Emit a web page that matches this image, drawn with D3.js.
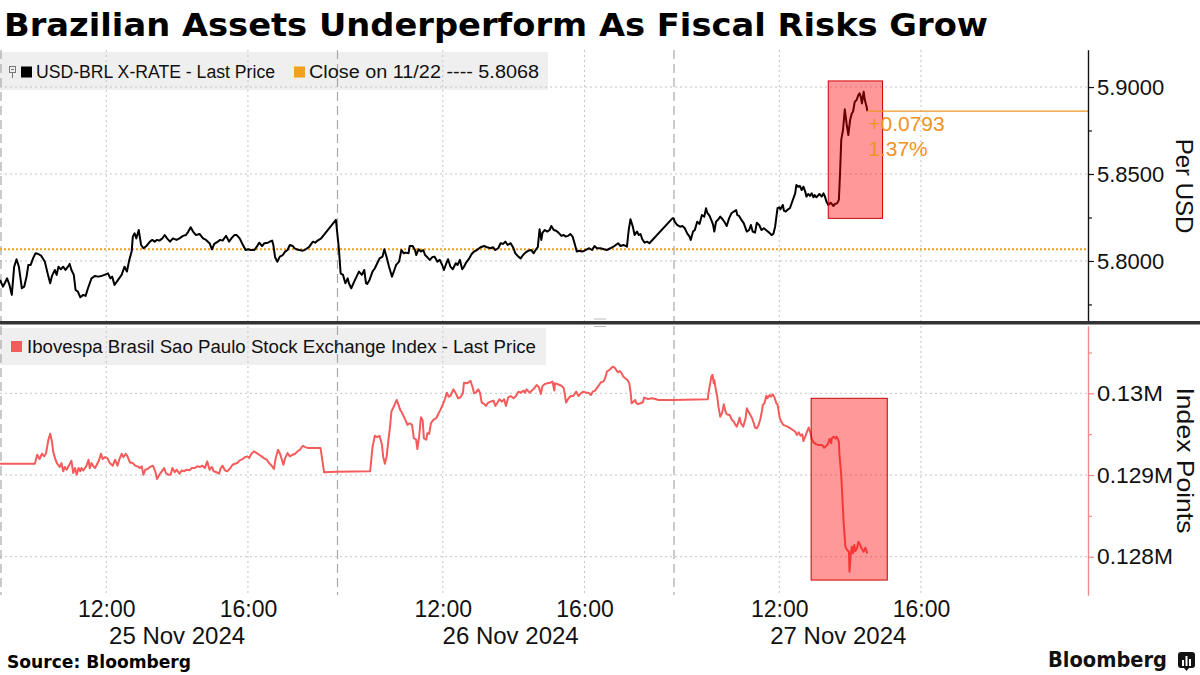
<!DOCTYPE html>
<html>
<head>
<meta charset="utf-8">
<script src="https://cdn.jsdelivr.net/npm/d3@7"></script>
<style>
  body { margin: 0; background: #fff; }
  svg { display: block; }
  text { font-family: "Liberation Sans", Arial, sans-serif; }
</style>
</head>
<body>
<div id="chart"></div>
<script>
// USD-BRL intraday, "DD HH:MM" (Nov 2024), value per USD
const usdBrl = [
  ["25 09:00",5.7891],["25 09:05",5.7852],["25 09:08",5.7872],["25 09:12",5.7900],["25 09:16",5.7862],["25 09:20",5.7805],
  ["25 09:24",5.7967],["25 09:28",5.8010],["25 09:32",5.7967],["25 09:37",5.7843],["25 09:41",5.7852],["25 09:45",5.7910],
  ["25 09:48",5.7977],["25 09:52",5.7977],["25 09:56",5.8015],["25 10:00",5.8044],["25 10:05",5.8040],["25 10:10",5.8029],
  ["25 10:16",5.7996],["25 10:22",5.7910],["25 10:25",5.7872],["25 10:28",5.7914],["25 10:33",5.7948],["25 10:36",5.7920],
  ["25 10:39",5.7967],["25 10:43",5.7952],["25 10:47",5.7967],["25 10:51",5.7948],["25 10:55",5.7967],["25 10:58",5.7983],
  ["25 11:01",5.7948],["25 11:05",5.7920],["25 11:08",5.7833],["25 11:12",5.7824],["25 11:16",5.7791],["25 11:21",5.7805],
  ["25 11:25",5.7799],["25 11:29",5.7843],["25 11:35",5.7900],["25 11:41",5.7914],["25 11:46",5.7910],["25 11:52",5.7914],
  ["25 11:57",5.7920],["25 12:03",5.7929],["25 12:07",5.7900],["25 12:10",5.7910],["25 12:14",5.7862],["25 12:20",5.7891],
  ["25 12:26",5.7920],["25 12:31",5.7967],["25 12:35",5.7939],["25 12:39",5.8006],["25 12:43",5.8054],["25 12:45",5.8140],
  ["25 12:48",5.8159],["25 12:51",5.8130],["25 12:55",5.8178],["25 12:59",5.8092],["25 13:03",5.8073],["25 13:08",5.8086],
  ["25 13:14",5.8111],["25 13:18",5.8121],["25 13:22",5.8111],["25 13:26",5.8121],["25 13:30",5.8117],["25 13:35",5.8130],
  ["25 13:39",5.8149],["25 13:43",5.8130],["25 13:48",5.8111],["25 13:53",5.8130],["25 13:59",5.8121],["25 14:04",5.8130],
  ["25 14:10",5.8144],["25 14:15",5.8149],["25 14:19",5.8169],["25 14:23",5.8194],["25 14:27",5.8169],["25 14:32",5.8149],
  ["25 14:38",5.8155],["25 14:44",5.8130],["25 14:49",5.8121],["25 14:55",5.8102],["25 14:59",5.8067],["25 15:03",5.8098],
  ["25 15:09",5.8111],["25 15:13",5.8121],["25 15:17",5.8117],["25 15:23",5.8144],["25 15:28",5.8111],["25 15:32",5.8130],
  ["25 15:37",5.8149],["25 15:41",5.8149],["25 15:46",5.8130],["25 15:50",5.8102],["25 15:56",5.8063],["25 16:00",5.8067],
  ["25 16:05",5.8063],["25 16:11",5.8063],["25 16:15",5.8082],["25 16:19",5.8105],["25 16:24",5.8086],["25 16:28",5.8102],
  ["25 16:34",5.8105],["25 16:37",5.8111],["25 16:41",5.8117],["25 16:43",5.8092],["25 16:46",5.8021],["25 16:50",5.7996],
  ["25 16:54",5.8025],["25 16:59",5.8034],["25 17:03",5.8054],["25 17:07",5.8063],["25 17:11",5.8092],["25 17:16",5.8086],
  ["25 17:19",5.8073],["25 17:22",5.8067],["25 17:27",5.8063],["25 17:33",5.8059],["25 17:38",5.8067],["25 17:44",5.8082],
  ["25 17:50",5.8111],["25 17:54",5.8105],["25 17:58",5.8117],["25 18:04",5.8130],["25 18:29",5.8236],
  ["26 09:04",5.8073],["26 09:07",5.7929],["26 09:11",5.7920],["26 09:15",5.7872],["26 09:19",5.7900],["26 09:21",5.7872],
  ["26 09:25",5.7843],["26 09:30",5.7881],["26 09:34",5.7910],["26 09:38",5.7939],["26 09:43",5.7920],["26 09:47",5.7948],
  ["26 09:50",5.7872],["26 09:52",5.7868],["26 09:56",5.7891],["26 10:01",5.7939],["26 10:05",5.7958],["26 10:09",5.7987],
  ["26 10:13",5.8015],["26 10:18",5.8025],["26 10:21",5.8067],["26 10:25",5.8021],["26 10:29",5.7967],["26 10:34",5.7910],
  ["26 10:38",5.7948],["26 10:41",5.7977],["26 10:46",5.7996],["26 10:50",5.8063],["26 10:54",5.8044],["26 10:57",5.8048],
  ["26 11:02",5.8044],["26 11:04",5.8086],["26 11:09",5.8086],["26 11:13",5.8063],["26 11:15",5.8034],["26 11:19",5.8067],
  ["26 11:23",5.8054],["26 11:27",5.8063],["26 11:30",5.8034],["26 11:34",5.8021],["26 11:38",5.8006],["26 11:42",5.8021],
  ["26 11:46",5.8025],["26 11:51",5.7996],["26 11:55",5.8006],["26 11:59",5.7977],["26 12:02",5.7948],["26 12:05",5.7977],
  ["26 12:09",5.8010],["26 12:13",5.7967],["26 12:17",5.7952],["26 12:22",5.7987],["26 12:25",5.7977],["26 12:29",5.8006],
  ["26 12:33",5.7952],["26 12:36",5.7967],["26 12:39",5.7987],["26 12:44",5.8010],["26 12:49",5.8040],["26 12:53",5.8054],
  ["26 12:58",5.8063],["26 13:04",5.8079],["26 13:10",5.8086],["26 13:15",5.8079],["26 13:21",5.8073],["26 13:25",5.8079],
  ["26 13:29",5.8063],["26 13:34",5.8073],["26 13:38",5.8102],["26 13:42",5.8098],["26 13:46",5.8111],["26 13:50",5.8092],
  ["26 13:55",5.8102],["26 13:59",5.8079],["26 14:03",5.8044],["26 14:08",5.8025],["26 14:12",5.8015],["26 14:16",5.8034],
  ["26 14:20",5.8048],["26 14:25",5.8059],["26 14:30",5.8063],["26 14:34",5.8044],["26 14:38",5.8067],["26 14:41",5.8079],
  ["26 14:44",5.8182],["26 14:47",5.8121],["26 14:49",5.8163],["26 14:53",5.8178],["26 14:57",5.8169],["26 15:01",5.8178],
  ["26 15:04",5.8201],["26 15:08",5.8178],["26 15:12",5.8174],["26 15:16",5.8163],["26 15:21",5.8144],["26 15:25",5.8149],
  ["26 15:28",5.8140],["26 15:32",5.8144],["26 15:36",5.8155],["26 15:40",5.8140],["26 15:43",5.8105],["26 15:47",5.8054],
  ["26 15:51",5.8059],["26 15:56",5.8054],["26 16:00",5.8059],["26 16:04",5.8067],["26 16:08",5.8073],["26 16:13",5.8063],
  ["26 16:17",5.8086],["26 16:21",5.8073],["26 16:27",5.8073],["26 16:33",5.8067],["26 16:38",5.8063],["26 16:44",5.8073],
  ["26 16:49",5.8082],["26 16:53",5.8092],["26 16:57",5.8102],["26 17:01",5.8086],["26 17:06",5.8092],["26 17:12",5.8082],
  ["26 17:15",5.8178],["26 17:18",5.8240],["26 17:22",5.8197],["26 17:25",5.8149],["26 17:29",5.8169],["26 17:32",5.8149],
  ["26 17:35",5.8155],["26 17:38",5.8125],["26 17:42",5.8105],["26 17:46",5.8111],["26 17:50",5.8102],["26 18:29",5.8245],
  ["27 09:01",5.8245],["27 09:03",5.8226],["27 09:07",5.8207],["27 09:12",5.8197],["27 09:16",5.8201],["27 09:20",5.8188],
  ["27 09:24",5.8159],["27 09:28",5.8140],["27 09:30",5.8121],["27 09:34",5.8169],["27 09:37",5.8178],["27 09:41",5.8226],
  ["27 09:45",5.8213],["27 09:49",5.8264],["27 09:53",5.8255],["27 09:56",5.8303],["27 09:58",5.8278],["27 10:02",5.8259],
  ["27 10:06",5.8226],["27 10:08",5.8207],["27 10:10",5.8169],["27 10:13",5.8226],["27 10:17",5.8240],["27 10:20",5.8255],
  ["27 10:24",5.8240],["27 10:28",5.8220],["27 10:31",5.8201],["27 10:35",5.8245],["27 10:39",5.8274],["27 10:43",5.8284],
  ["27 10:47",5.8293],["27 10:49",5.8264],["27 10:52",5.8259],["27 10:56",5.8236],["27 11:00",5.8216],["27 11:05",5.8169],
  ["27 11:09",5.8178],["27 11:12",5.8207],["27 11:15",5.8169],["27 11:19",5.8163],["27 11:22",5.8220],["27 11:26",5.8207],
  ["27 11:30",5.8178],["27 11:34",5.8188],["27 11:39",5.8174],["27 11:43",5.8163],["27 11:47",5.8149],["27 11:50",5.8155],
  ["27 11:53",5.8197],["27 11:57",5.8303],["27 12:00",5.8308],["27 12:02",5.8297],["27 12:06",5.8322],["27 12:08",5.8289],
  ["27 12:11",5.8284],["27 12:15",5.8297],["27 12:18",5.8303],["27 12:22",5.8341],["27 12:27",5.8389],["27 12:29",5.8437],
  ["27 12:32",5.8427],["27 12:35",5.8431],["27 12:38",5.8408],["27 12:41",5.8427],["27 12:44",5.8399],["27 12:46",5.8370],
  ["27 12:49",5.8385],["27 12:52",5.8374],["27 12:55",5.8389],["27 12:58",5.8366],["27 13:00",5.8379],["27 13:03",5.8366],
  ["27 13:08",5.8385],["27 13:12",5.8370],["27 13:15",5.8389],["27 13:17",5.8374],["27 13:20",5.8341],["27 13:23",5.8322],
  ["27 13:27",5.8335],["27 13:32",5.8316],["27 13:34",5.8328],["27 13:38",5.8331],["27 13:41",5.8351],["27 13:43",5.8504],
  ["27 13:45",5.8696],["27 13:48",5.8753],["27 13:51",5.8872],["27 13:54",5.8791],["27 13:57",5.8724],["27 14:00",5.8810],
  ["27 14:03",5.8849],["27 14:05",5.8858],["27 14:08",5.8916],["27 14:11",5.8925],["27 14:14",5.8954],["27 14:16",5.8964],
  ["27 14:18",5.8945],["27 14:20",5.8906],["27 14:23",5.8973],["27 14:25",5.8925],["27 14:28",5.8887],["27 14:29",5.8861]
];

// Ibovespa intraday, index points
const ibov = [
  ["25 09:00",129138],["25 09:59",129138],["25 10:03",129248],["25 10:07",129195],["25 10:11",129260],["25 10:15",129228],
  ["25 10:18",129268],["25 10:22",129431],["25 10:25",129504],["25 10:28",129411],["25 10:30",129289],["25 10:34",129187],
  ["25 10:37",129138],["25 10:41",129098],["25 10:44",129146],["25 10:47",129045],["25 10:50",129098],["25 10:53",129065],
  ["25 10:56",129106],["25 10:59",129146],["25 11:01",129175],["25 11:04",129024],["25 11:07",129085],["25 11:10",129004],
  ["25 11:13",129085],["25 11:16",129045],["25 11:18",129085],["25 11:21",129057],["25 11:26",129106],["25 11:30",129187],
  ["25 11:32",129085],["25 11:35",129146],["25 11:38",129106],["25 11:41",129085],["25 11:44",129126],["25 11:48",129187],
  ["25 11:51",129260],["25 11:54",129195],["25 11:58",129219],["25 12:02",129207],["25 12:06",129146],["25 12:11",129114],
  ["25 12:15",129187],["25 12:19",129114],["25 12:22",129187],["25 12:26",129260],["25 12:29",129219],["25 12:33",129260],
  ["25 12:36",129228],["25 12:40",129154],["25 12:45",129146],["25 12:49",129114],["25 12:53",129106],["25 12:57",129085],
  ["25 13:00",129106],["25 13:03",129004],["25 13:06",129065],["25 13:10",129073],["25 13:14",129098],["25 13:19",129114],
  ["25 13:23",129045],["25 13:26",128951],["25 13:30",129004],["25 13:34",129045],["25 13:38",129085],["25 13:41",129024],
  ["25 13:45",129004],["25 13:49",129004],["25 13:52",129085],["25 13:56",129033],["25 13:59",129065],["25 14:04",129016],
  ["25 14:08",129057],["25 14:12",129045],["25 14:16",129065],["25 14:21",129057],["25 14:25",129085],["25 14:30",129085],
  ["25 14:34",129106],["25 14:39",129098],["25 14:43",129114],["25 14:47",129085],["25 14:51",129167],["25 14:55",129065],
  ["25 14:59",129098],["25 15:02",129045],["25 15:07",129033],["25 15:11",129016],["25 15:14",129085],["25 15:17",129114],
  ["25 15:21",129057],["25 15:25",129045],["25 15:30",129085],["25 15:34",129126],["25 15:38",129138],["25 15:42",129146],
  ["25 15:46",129179],["25 15:51",129195],["25 15:55",129219],["25 15:59",129228],["25 16:02",129207],["25 16:06",129260],
  ["25 16:10",129289],["25 16:15",129268],["25 16:19",129248],["25 16:23",129228],["25 16:27",129207],["25 16:32",129187],
  ["25 16:36",129146],["25 16:40",129114],["25 16:44",129073],["25 16:47",129207],["25 16:51",129309],["25 16:55",129248],
  ["25 17:00",129126],["25 17:03",129207],["25 17:07",129268],["25 17:11",129228],["25 17:16",129248],["25 17:20",129260],
  ["25 17:24",129289],["25 17:28",129309],["25 17:33",129358],["25 17:37",129341],["25 17:42",129329],["25 18:03",129329],
  ["25 18:09",129033],["25 18:29",129041],
  ["26 09:00",129041],["26 09:57",129045],["26 10:01",129341],["26 10:05",129480],["26 10:09",129463],["26 10:13",129480],
  ["26 10:17",129370],["26 10:19",129228],["26 10:22",129138],["26 10:25",129228],["26 10:28",129431],["26 10:31",129614],
  ["26 10:33",129776],["26 10:37",129837],["26 10:42",129919],["26 10:45",129858],["26 10:48",129797],["26 10:50",129776],
  ["26 10:54",129715],["26 10:58",129654],["26 11:00",129614],["26 11:04",129634],["26 11:08",129614],["26 11:11",129451],
  ["26 11:15",129431],["26 11:17",129317],["26 11:20",129472],["26 11:23",129707],["26 11:26",129667],["26 11:28",129451],
  ["26 11:32",129431],["26 11:34",129512],["26 11:37",129504],["26 11:40",129634],["26 11:44",129675],["26 11:49",129695],
  ["26 11:53",129756],["26 11:56",129797],["26 12:01",129878],["26 12:04",129939],["26 12:07",130008],["26 12:10",129959],
  ["26 12:13",129967],["26 12:18",130049],["26 12:22",130000],["26 12:26",129939],["26 12:30",129951],["26 12:34",130000],
  ["26 12:36",130130],["26 12:41",130122],["26 12:43",130130],["26 12:47",130154],["26 12:51",130061],["26 12:53",130000],
  ["26 12:56",130008],["26 13:00",130049],["26 13:03",130008],["26 13:06",129886],["26 13:10",129870],["26 13:13",129846],
  ["26 13:17",129886],["26 13:21",129898],["26 13:26",129911],["26 13:29",129846],["26 13:32",129878],["26 13:36",129927],
  ["26 13:40",129898],["26 13:44",129927],["26 13:47",129846],["26 13:51",129951],["26 13:55",129967],["26 14:00",129939],
  ["26 14:04",129967],["26 14:08",130020],["26 14:12",130008],["26 14:17",130033],["26 14:19",130008],["26 14:22",130049],
  ["26 14:27",130008],["26 14:31",130033],["26 14:35",130061],["26 14:39",130102],["26 14:43",130073],["26 14:46",129992],
  ["26 14:49",130089],["26 14:53",130114],["26 14:57",130122],["26 15:02",130130],["26 15:06",130142],["26 15:09",130033],
  ["26 15:10",130122],["26 15:14",130114],["26 15:18",130102],["26 15:22",130089],["26 15:25",130061],["26 15:29",129886],
  ["26 15:33",129939],["26 15:37",129967],["26 15:41",129967],["26 15:46",130020],["26 15:50",129967],["26 15:54",130000],
  ["26 15:58",130020],["26 16:03",130008],["26 16:07",130008],["26 16:11",129980],["26 16:14",130020],["26 16:18",130033],
  ["26 16:22",130073],["26 16:26",130114],["26 16:28",130135],["26 16:32",130143],["26 16:35",130184],["26 16:38",130265],
  ["26 16:42",130286],["26 16:46",130314],["26 16:49",130327],["26 16:52",130306],["26 16:55",130273],["26 16:57",130257],
  ["26 17:00",130273],["26 17:03",130245],["26 17:06",130204],["26 17:09",130184],["26 17:13",130163],["26 17:16",130122],
  ["26 17:18",130020],["26 17:20",129878],["26 17:23",129898],["26 17:26",129918],["26 17:28",129878],["26 17:31",129869],
  ["26 17:35",129878],["26 17:39",129890],["26 17:41",129947],["26 17:44",129939],["26 17:48",129931],["26 17:54",129939],
  ["26 18:00",129931],["26 18:05",129918],["26 18:29",129918],
  ["27 09:00",129918],["27 09:59",129927],["27 10:00",130000],["27 10:03",130122],["27 10:05",130204],["27 10:07",130225],
  ["27 10:09",130122],["27 10:10",130163],["27 10:12",130069],["27 10:15",129959],["27 10:17",129837],["27 10:20",129714],
  ["27 10:23",129755],["27 10:26",129865],["27 10:29",129775],["27 10:31",129743],["27 10:36",129735],["27 10:40",129673],
  ["27 10:43",129653],["27 10:46",129612],["27 10:48",129592],["27 10:51",129653],["27 10:53",129702],["27 10:55",129633],
  ["27 10:59",129592],["27 11:03",129694],["27 11:05",129816],["27 11:08",129775],["27 11:11",129735],["27 11:14",129694],
  ["27 11:17",129633],["27 11:19",129580],["27 11:22",129571],["27 11:25",129612],["27 11:28",129686],["27 11:31",129796],
  ["27 11:32",129857],["27 11:35",129878],["27 11:38",129971],["27 11:40",129939],["27 11:44",129980],["27 11:46",129959],
  ["27 11:49",129988],["27 11:52",129947],["27 11:55",129878],["27 11:57",129865],["27 12:01",129694],["27 12:03",129661],
  ["27 12:05",129633],["27 12:07",129612],["27 12:10",129604],["27 12:14",129592],["27 12:19",129571],["27 12:23",129551],
  ["27 12:27",129531],["27 12:30",129490],["27 12:33",129522],["27 12:36",129482],["27 12:39",129498],["27 12:41",129416],
  ["27 12:44",129469],["27 12:47",129531],["27 12:50",129580],["27 12:53",129510],["27 12:55",129441],["27 12:58",129400],
  ["27 13:03",129375],["27 13:07",129367],["27 13:11",129367],["27 13:14",129359],["27 13:16",129335],["27 13:20",129359],
  ["27 13:22",129375],["27 13:24",129416],["27 13:25",129441],["27 13:28",129388],["27 13:29",129449],["27 13:32",129469],
  ["27 13:35",129449],["27 13:37",129469],["27 13:39",129441],["27 13:41",129408],["27 13:42",129245],["27 13:45",129000],
  ["27 13:47",128714],["27 13:49",128428],["27 13:52",128122],["27 13:55",128081],["27 13:58",128061],["27 13:59",127816],
  ["27 14:01",128020],["27 14:03",128122],["27 14:05",128041],["27 14:07",128143],["27 14:09",128069],["27 14:12",128110],
  ["27 14:14",128184],["27 14:17",128143],["27 14:20",128094],["27 14:23",128061],["27 14:26",128110],["27 14:29",128041]
];

const closeRef = 5.8068;
const closeChange = "+0.0793";
const closePct = "1.37%";

const timeTicks = ["25 12:00", "25 16:00", "26 12:00", "26 16:00", "27 12:00", "27 16:00"];
const dayStarts = ["25 09:00", "26 09:00", "27 09:00"];
const dateLabels = ["25 Nov 2024", "26 Nov 2024", "27 Nov 2024"];
const dateLabelTimes = ["25 14:00", "26 13:55", "27 13:40"];
const xStart = "25 09:00", xEnd = "27 20:43";

const usdTicks = [5.80, 5.85, 5.90];
const usdMinorTicks = [5.775, 5.825, 5.875];
const usdDomain = [5.7649, 5.9213];
const ibovTicks = [128000, 129000, 130000];
const ibovMinorTicks = [128500, 129500, 130500];
const ibovDomain = [127531, 130824];

// highlighted windows (time range, value range)
const usdBox = ["27 13:23", "27 14:55", 5.8245, 5.9035];
const ibovBox = ["27 12:54", "27 15:03", 127714, 129939];

// session hours: each day shown from 09:00 to 18:30, gaps removed
function sessionHours(s) {
  const day = +s.slice(0, 2) - 25, h = +s.slice(3, 5), m = +s.slice(6, 8);
  return day * 9.5 + (h - 9) + m / 60;
}

const W = 1200, H = 675;
const plotRight = 1088;
const topPanel = { y0: 50, y1: 322 };
const botPanel = { y0: 326, y1: 595 };

const svg = d3.select("#chart").append("svg")
  .attr("width", W).attr("height", H);

const x = d3.scaleLinear()
  .domain([sessionHours(xStart), sessionHours(xEnd)])
  .range([0, plotRight]);

const yTop = d3.scaleLinear().domain(usdDomain).range([topPanel.y1, topPanel.y0]);
const yBot = d3.scaleLinear().domain(ibovDomain).range([botPanel.y1, botPanel.y0]);

// Title
svg.append("text")
  .attr("x", 4).attr("y", 36)
  .attr("textLength", 984).attr("lengthAdjust", "spacingAndGlyphs")
  .style("font-family", "'DejaVu Sans', sans-serif")
  .style("font-weight", "bold").style("font-size", "32px")
  .attr("fill", "#000")
  .text("Brazilian Assets Underperform As Fiscal Risks Grow");

// Legend backgrounds (under the grid)
svg.append("rect").attr("x", 0).attr("y", 52).attr("width", 548).attr("height", 38).attr("fill", "#efefef");
svg.append("rect").attr("x", 0).attr("y", 328).attr("width", 546).attr("height", 37).attr("fill", "#efefef");

// Grid for both panels
const grid = svg.append("g");
[[topPanel, yTop, usdTicks], [botPanel, yBot, ibovTicks]].forEach(([p, y, ticks]) => {
  grid.selectAll(null).data(ticks).enter().append("line")
    .attr("x1", 0).attr("x2", plotRight)
    .attr("y1", d => y(d)).attr("y2", d => y(d))
    .attr("stroke", "#c4c4c4").attr("stroke-width", 1).attr("stroke-dasharray", "2,3");
  grid.selectAll(null).data(timeTicks).enter().append("line")
    .attr("x1", d => x(sessionHours(d))).attr("x2", d => x(sessionHours(d)))
    .attr("y1", p.y0).attr("y2", p.y1)
    .attr("stroke", "#c4c4c4").attr("stroke-width", 1).attr("stroke-dasharray", "2,3");
  grid.selectAll(null).data(dayStarts).enter().append("line")
    .attr("x1", d => x(sessionHours(d)) + 1).attr("x2", d => x(sessionHours(d)) + 1)
    .attr("y1", p.y0).attr("y2", p.y1)
    .attr("stroke", "#a8a8a8").attr("stroke-width", 1.2).attr("stroke-dasharray", "9,5");
});

// Close on 11/22 reference
svg.append("line")
  .attr("x1", 0).attr("x2", plotRight)
  .attr("y1", yTop(closeRef)).attr("y2", yTop(closeRef))
  .attr("stroke", "#f2a01e").attr("stroke-width", 2).attr("stroke-dasharray", "2,2");

// Series
const lineTop = d3.line().x(d => x(sessionHours(d[0]))).y(d => yTop(d[1]));
const lineBot = d3.line().x(d => x(sessionHours(d[0]))).y(d => yBot(d[1]));

svg.append("path").datum(usdBrl)
  .attr("d", lineTop).attr("fill", "none")
  .attr("stroke", "#000").attr("stroke-width", 2).attr("stroke-linejoin", "round");

svg.append("path").datum(ibov)
  .attr("d", lineBot).attr("fill", "none")
  .attr("stroke", "#f45b5b").attr("stroke-width", 2).attr("stroke-linejoin", "round");

// Highlight boxes
[[usdBox, yTop], [ibovBox, yBot]].forEach(([b, y]) => {
  const x0 = x(sessionHours(b[0])), x1 = x(sessionHours(b[1]));
  svg.append("rect")
    .attr("x", x0).attr("y", y(b[3]))
    .attr("width", x1 - x0).attr("height", y(b[2]) - y(b[3]))
    .attr("fill", "rgba(255,0,0,0.4)")
    .attr("stroke", "#cc0000").attr("stroke-width", 1);
});

// Change annotation
const last = usdBrl[usdBrl.length - 1];
svg.append("line")
  .attr("x1", x(sessionHours(last[0]))).attr("x2", plotRight)
  .attr("y1", yTop(last[1])).attr("y2", yTop(last[1]))
  .attr("stroke", "#ec9420").attr("stroke-width", 1.2);
svg.append("text")
  .attr("x", x(sessionHours(last[0])) + 1).attr("y", yTop(last[1]) + 20)
  .attr("fill", "#f0921e").style("font-size", "21px")
  .text(closeChange);
svg.append("text")
  .attr("x", x(sessionHours(last[0])) + 1).attr("y", yTop(last[1]) + 45)
  .attr("fill", "#f0921e").style("font-size", "21px")
  .text(closePct);

// Right axes
function styleAxis(g, color) {
  g.select(".domain").attr("stroke", color).attr("stroke-width", 1.2);
  g.selectAll(".tick line").attr("stroke", color).attr("stroke-width", 1.2);
  g.selectAll(".tick text").attr("fill", "#111").style("font-size", "22px")
    .style("font-family", "'Liberation Sans', Arial, sans-serif");
}

svg.append("g")
  .attr("transform", `translate(${plotRight},0)`)
  .call(d3.axisRight(yTop).tickValues(usdTicks).tickFormat(d3.format(".4f"))
    .tickSize(6).tickSizeOuter(0).tickPadding(3))
  .call(g => styleAxis(g, "#111"));
svg.append("g")
  .attr("transform", `translate(${plotRight},0)`)
  .call(d3.axisRight(yTop).tickValues(usdMinorTicks).tickFormat("").tickSize(4).tickSizeOuter(0))
  .call(g => styleAxis(g, "#111"));

svg.append("g")
  .attr("transform", `translate(${plotRight},0)`)
  .call(d3.axisRight(yBot).tickValues(ibovTicks).tickFormat(d => (d / 1e6) + "M")
    .tickSize(6).tickSizeOuter(0).tickPadding(3))
  .call(g => styleAxis(g, "#f08a8a"))
  .call(g => g.selectAll(".tick text").attr("textLength", d => d === 130000 ? 66 : 76)
    .attr("lengthAdjust", "spacingAndGlyphs"));
svg.append("g")
  .attr("transform", `translate(${plotRight},0)`)
  .call(d3.axisRight(yBot).tickValues(ibovMinorTicks).tickFormat("").tickSize(4).tickSizeOuter(0))
  .call(g => styleAxis(g, "#f08a8a"));

// Axis titles
svg.append("text")
  .attr("transform", `translate(1176,${(topPanel.y0 + topPanel.y1) / 2}) rotate(90)`)
  .attr("text-anchor", "middle").style("font-size", "24px").attr("fill", "#111")
  .text("Per USD");
svg.append("text")
  .attr("transform", `translate(1177,${(botPanel.y0 + botPanel.y1) / 2}) rotate(90)`)
  .attr("text-anchor", "middle").style("font-size", "24px").attr("fill", "#111")
  .attr("textLength", 146).attr("lengthAdjust", "spacingAndGlyphs")
  .text("Index Points");

// Panel separator
svg.append("rect").attr("x", 0).attr("y", 321).attr("width", W).attr("height", 3.5).attr("fill", "#333");
svg.append("line").attr("x1", 594).attr("x2", 606).attr("y1", 326.5).attr("y2", 326.5).attr("stroke", "#bbb");
svg.append("line").attr("x1", 594).attr("x2", 606).attr("y1", 319).attr("y2", 319).attr("stroke", "#bbb");

// Legends
const leg1 = svg.append("g");
leg1.append("rect").attr("x", 9.5).attr("y", 66.5).attr("width", 6).attr("height", 6)
  .attr("fill", "none").attr("stroke", "#777").attr("stroke-width", 1);
leg1.append("line").attr("x1", 11).attr("x2", 14).attr("y1", 69.5).attr("y2", 69.5).attr("stroke", "#777");
leg1.append("line").attr("x1", 12.5).attr("x2", 12.5).attr("y1", 72.5).attr("y2", 78).attr("stroke", "#777");
leg1.append("rect").attr("x", 21).attr("y", 66.5).attr("width", 11).attr("height", 11).attr("fill", "#000");
leg1.append("text").attr("x", 36).attr("y", 78).style("font-size", "18px").attr("fill", "#111")
  .attr("textLength", 239).attr("lengthAdjust", "spacingAndGlyphs")
  .text("USD-BRL X-RATE - Last Price");
leg1.append("rect").attr("x", 294).attr("y", 66.5).attr("width", 11).attr("height", 11).attr("fill", "#f2a01e");
leg1.append("text").attr("x", 309).attr("y", 78).style("font-size", "18px").attr("fill", "#111")
  .attr("textLength", 230).attr("lengthAdjust", "spacingAndGlyphs")
  .text(`Close on 11/22 ---- ${closeRef.toFixed(4)}`);

const leg2 = svg.append("g");
leg2.append("rect").attr("x", 11).attr("y", 341).attr("width", 11).attr("height", 11).attr("fill", "#f45b5b");
leg2.append("text").attr("x", 27).attr("y", 353).style("font-size", "18px").attr("fill", "#111")
  .attr("textLength", 509).attr("lengthAdjust", "spacingAndGlyphs")
  .text("Ibovespa Brasil Sao Paulo Stock Exchange Index - Last Price");

// X axis labels
svg.append("g")
  .attr("transform", `translate(0,${botPanel.y1})`)
  .call(d3.axisBottom(x).tickValues(timeTicks.map(sessionHours))
    .tickFormat((d, i) => timeTicks[i].slice(3)).tickSize(0).tickPadding(6))
  .call(g => g.select(".domain").remove())
  .call(g => g.selectAll("text").attr("fill", "#111").style("font-size", "23px")
    .style("font-family", "'Liberation Sans', Arial, sans-serif"));

svg.append("g").selectAll("text").data(dateLabels).enter().append("text")
  .attr("x", (d, i) => x(sessionHours(dateLabelTimes[i])))
  .attr("y", 644)
  .attr("text-anchor", "middle").style("font-size", "24px").attr("fill", "#111")
  .text(d => d);

// Footer
svg.append("text")
  .attr("x", 7).attr("y", 668)
  .attr("textLength", 184).attr("lengthAdjust", "spacingAndGlyphs")
  .style("font-family", "'DejaVu Sans', sans-serif")
  .style("font-weight", "bold").style("font-size", "17px").attr("fill", "#000")
  .text("Source: Bloomberg");

svg.append("text")
  .attr("x", 1048).attr("y", 667)
  .attr("textLength", 119).attr("lengthAdjust", "spacingAndGlyphs")
  .style("font-family", "'DejaVu Sans', sans-serif")
  .style("font-weight", "bold").style("font-size", "21px").attr("fill", "#111")
  .text("Bloomberg");

const logo = svg.append("g").attr("transform", "translate(1178,652)");
logo.append("rect").attr("width", 17).attr("height", 16).attr("rx", 3).attr("fill", "#111");
logo.append("path").attr("d", "M6,16 L8.5,19 L11,16 Z").attr("fill", "#111");
[[4, 8, 6], [7.5, 4, 10], [11, 7, 7]].forEach(b => {
  logo.append("rect").attr("x", b[0]).attr("y", b[1]).attr("width", 2).attr("height", b[2]).attr("fill", "#fff");
});
</script>
</body>
</html>
